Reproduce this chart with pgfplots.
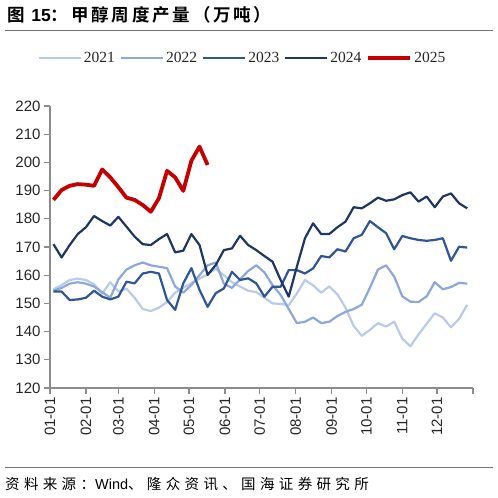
\documentclass[border=0pt]{standalone}
\usepackage{fontspec}
\usepackage{pgfplots}
\usepackage{pgfplotstable}
\pgfplotsset{compat=1.18}
\setmainfont{Liberation Serif}
\newfontfamily\arial{Liberation Sans}
\newfontfamily\cjkb[LetterSpace=16]{Noto Sans CJK SC Bold}
\newfontfamily\cjk[LetterSpace=30]{Noto Sans CJK SC}

\definecolor{c21}{RGB}{184,203,233}
\definecolor{c22}{RGB}{140,167,218}
\definecolor{c23}{RGB}{48,86,152}
\definecolor{c24}{RGB}{30,54,98}
\definecolor{c25}{RGB}{196,0,0}

% weekly output, 10k t; d = day of year
\pgfplotstableread{
d   y21   y22   y23   y24   y25
3   155.0 154.5 154.2 171.0 186.7
10  156.5 155.5 154.2 166.3 190.2
17  158.3 157.0 151.2 170.7 191.7
24  158.8 157.5 151.4 174.6 192.3
31  158.3 157.0 152.0 177.0 192.1
38  156.8 156.0 154.5 181.0 191.7
45  153.5 154.0 152.4 179.2 197.5
52  157.5 152.0 151.4 177.6 194.7
59  154.2 158.5 152.4 180.7 191.2
66  155.2 162.0 157.7 177.2 187.5
73  152.0 163.5 157.1 173.7 186.7
80  148.0 164.5 160.6 171.0 184.9
87  147.3 163.5 161.2 170.7 182.5
94  148.5 163.0 160.6 172.8 187.3
101 150.5 162.5 151.2 174.6 197.0
108 153.8 156.0 147.7 168.1 194.7
115 155.5 153.8 157.1 168.7 189.9
122 157.2 156.5 162.5 174.6 200.6
129 158.8 160.0 154.8 170.7 205.6
136 160.3 163.5 148.8 160.1 199.1
143 162.3 164.5 153.6 163.6 nan
150 160.0 157.0 155.3 168.9 nan
157 157.5 155.5 161.2 169.5 nan
164 156.0 158.5 158.3 174.0 nan
171 154.5 161.5 158.9 170.7 nan
178 154.0 163.5 157.1 168.9 nan
185 152.0 161.0 152.4 166.8 nan
192 150.0 156.5 155.9 164.8 nan
199 149.8 153.0 155.9 158.3 nan
206 149.4 148.0 161.8 152.4 nan
213 153.5 143.0 161.8 163.0 nan
220 158.3 143.5 160.6 173.1 nan
227 156.4 145.0 162.4 178.4 nan
234 153.8 143.0 166.8 174.6 nan
241 156.0 143.5 166.3 174.6 nan
248 153.2 145.5 169.2 177.0 nan
255 148.5 147.0 168.4 179.0 nan
262 142.0 148.0 173.1 184.1 nan
269 138.5 149.5 174.3 183.7 nan
276 140.6 155.5 179.2 185.5 nan
283 143.0 162.0 177.0 187.5 nan
290 141.8 163.5 174.9 186.4 nan
297 143.5 159.5 169.2 186.9 nan
304 137.5 152.5 173.9 188.4 nan
311 134.8 150.6 173.1 189.4 nan
318 139.0 150.5 172.5 186.1 nan
325 142.8 152.5 172.2 187.9 nan
332 146.5 157.5 172.5 184.1 nan
339 145.0 155.0 173.1 187.9 nan
346 141.5 155.8 165.1 189.0 nan
353 144.5 157.3 170.1 185.5 nan
360 149.5 157.0 169.8 183.7 nan
}\weekly

\begin{document}
\begin{tikzpicture}
\useasboundingbox (0pt,0pt) rectangle (498pt,498pt);
% title and rules
\node[anchor=base west, inner sep=0] at (7pt,476pt)
  {\cjkb\fontsize{17.5}{17.5}\selectfont 图 {\arial\bfseries 15}：甲醇周度产量（万吨）};
\draw[black!55, line width=1pt] (5pt,467pt) -- (493pt,467pt);
\draw[black!55, line width=1pt] (5pt,30pt) -- (493pt,30pt);
\node[anchor=base west, inner sep=0] at (5pt,9pt)
  {\cjk\fontsize{14.5}{14.5}\selectfont 资料来源：{\arial Wind}、隆众资讯、国海证券研究所};

\begin{axis}[
    at={(50pt,110pt)}, anchor=south west,
    scale only axis, width=423pt, height=282pt,
    xmin=0, xmax=365, ymin=120, ymax=220,
    axis lines*=left,
    axis line style={draw=black!45, line width=1.2pt},
    tick style={draw=black!45, line width=1.2pt},
    major tick length=6pt, tick align=outside,
    xtick={0,31,59,90,120,151,181,212,243,273,304,334,365},
    xticklabels={01-01,02-01,03-01,04-01,05-01,06-01,07-01,08-01,09-01,10-01,11-01,12-01,{}},
    ytick={120,130,...,220},
    tick label style={font=\arial\fontsize{15}{15}\selectfont, text=black!85},
    /pgf/number format/assume math mode=true,
    xticklabel style={rotate=90, anchor=east},
    no marks,
    legend columns=5,
    legend style={at={(0.455,1.17)}, anchor=center, draw=none, fill=none,
        font=\fontsize{15.5}{15.5}\selectfont, text=black!85,
        /tikz/every even column/.append style={column sep=3pt}},
    legend image code/.code={\draw[#1] (0pt,0pt) -- (42pt,0pt);},
    every axis plot/.append style={line join=round},
]
\addplot[c21, line width=2.2pt] table[x=d, y=y21] {\weekly};
\addlegendentry{2021}
\addplot[c22, line width=2.2pt] table[x=d, y=y22] {\weekly};
\addlegendentry{2022}
\addplot[c23, line width=2.2pt] table[x=d, y=y23] {\weekly};
\addlegendentry{2023}
\addplot[c24, line width=2.2pt] table[x=d, y=y24] {\weekly};
\addlegendentry{2024}
\addplot[c25, line width=3.8pt] table[x=d, y=y25] {\weekly};
\addlegendentry{2025}
\end{axis}
\end{tikzpicture}
\end{document}
